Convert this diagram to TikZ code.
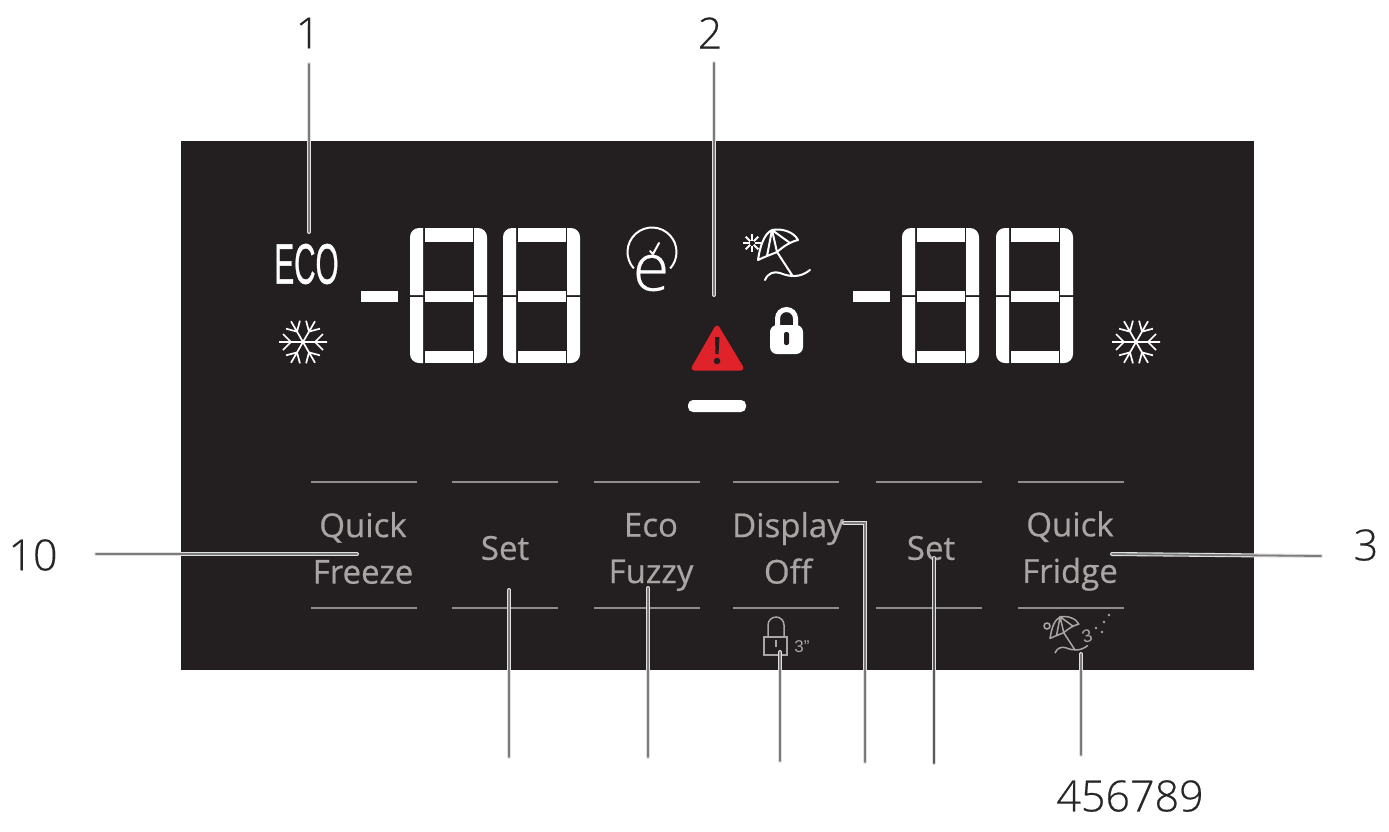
\documentclass[tikz,border=0pt]{standalone}
\usepackage{fontspec}
\setmainfont{Liberation Sans}
\newfontfamily\btnfont[FakeBold=0.5]{Open Sans}
\newfontfamily\lightfont[FakeBold=0.4]{Open Sans Light}
\newfontfamily\ecofont[FakeBold=1.0]{Liberation Sans}
\definecolor{panelbg}{HTML}{231F20}
\definecolor{btngray}{HTML}{A8A5A4}
\definecolor{rulegray}{HTML}{8F8C8C}
\definecolor{leadgray}{HTML}{7C7A7A}
\definecolor{alertred}{HTML}{E0222B}
\newcommand{\lcddigit}[2]{
  \begin{scope}[shift={(#1,#2)}]
    \fill[white] (15,0) rectangle (63,14);
    \fill[white] (15,63) rectangle (63,74);
    \fill[white] (15,123) rectangle (63,135);
    \fill[white] (13,67) -- (0,67) -- (0,9) arc[start angle=180,end angle=270,radius=9] -- (13,0) -- cycle;
    \fill[white] (13,69) -- (0,69) -- (0,126) arc[start angle=180,end angle=90,radius=9] -- (13,135) -- cycle;
    \fill[white] (64,67) -- (77,67) -- (77,9) arc[start angle=0,end angle=-90,radius=9] -- (64,0) -- cycle;
    \fill[white] (64,69) -- (77,69) -- (77,126) arc[start angle=0,end angle=90,radius=9] -- (64,135) -- cycle;
  \end{scope}
}
\newcommand{\snowflake}[2]{
  \foreach \a in {0,60,...,300} {
    \draw[white,line width=1.7pt,shift={(#1,#2)},rotate=\a]
      (0,0) -- (24,0) (12,0) -- +(8,-8) (12,0) -- +(8,8);
  }
}
\newcommand{\parasol}[4]{
  \begin{scope}[shift={(#1,#2)},scale=#3,line cap=round,line join=round]
    \draw[#4] (-18,2) .. controls (-16,-12) and (-12,-24) .. (-4,-28)
        .. controls (6,-30) and (18,-26) .. (22,-18)
        .. controls (14,-16) and (8,-12) .. (1,-6)
        .. controls (-6,-3) and (-12,-1) .. (-18,2)
      (-4,-28) -- (1,-6) (-4,-28) -- (14,-15) (-4,-28) -- (-9,-2)
      (1,-6) -- (16,17)
      (-11,22) .. controls (-8,15) and (-2,13) .. (4,15) .. controls (14,19) and (24,20) .. (34,12);
  \end{scope}
}
\tikzset{
  btntext/.style={text=btngray,align=center,inner sep=0pt,
    font=\btnfont\fontsize{33}{46.5}\selectfont},
  numtext/.style={text=black!85,inner sep=0pt,font=\lightfont\fontsize{43}{52}\selectfont},
  btnrule/.style={draw=rulegray,line width=1.8pt},
  leader/.style={preaction={draw=white!88!black,line width=4pt,line cap=round},
    draw=leadgray,line width=1.8pt,line cap=round},
  heavyleader/.style={leader,draw=black!65,line width=2.8pt},
  iconline/.style={white,line width=2pt},
  smallicon/.style={btngray,line width=1.5pt},
}
\begin{document}
\begin{tikzpicture}[x=1pt,y=-1pt]
  \useasboundingbox (0,0) rectangle (1389,831);
  \fill[panelbg] (181,141) rectangle (1254,670);

  \fill[white] (361,291) rectangle (398,302);
  \lcddigit{410}{228}
  \lcddigit{503}{228}
  \fill[white] (853,291) rectangle (890,302);
  \lcddigit{902}{228}
  \lcddigit{996}{228}
  \snowflake{303}{342}
  \snowflake{1136}{342}

  \node[text=white,inner sep=0pt] (eco) at (306.5,264)
    {\ecofont\fontsize{57}{60}\selectfont\scalebox{0.52}[1]{ECO}};

  % clock and e
  \draw[iconline] (633.8,268.4) arc[start angle=138,end angle=402,radius=24.5];
  \draw[iconline,line cap=round] (650,251) -- (653,254) -- (659,243);
  \node[text=white,inner sep=0pt] (clocke) at (651,273)
    {\lightfont\fontsize{66}{68}\selectfont e};

  \parasol{776}{258}{1}{iconline}
  \foreach \a in {0,45,...,315} {
    \draw[iconline,shift={(752,243)}] (\a:2.5) -- (\a:9);
  }

  % padlock
  \draw[white,line width=5pt] (777.5,330) -- (777.5,318.5) arc[start angle=180,end angle=360,radius=9] -- (795.5,330);
  \fill[white,rounded corners=7pt] (770,325) rectangle (803,354);
  \fill[panelbg,rounded corners=2pt] (784,332) rectangle (789,345);

  % alert
  \fill[alertred,draw=alertred,line width=5pt,line join=round] (717,328) -- (694,368) -- (741,368) -- cycle;
  \fill[panelbg] (715,337) -- (719.5,337) -- (718.5,354) -- (715.5,354) -- cycle;
  \fill[panelbg] (717,361) circle (3.3);
  \fill[white,rounded corners=5pt] (688,400) rectangle (746,412);

  \foreach \x in {311,452,594,733,876,1018} {
    \draw[btnrule] (\x,482) -- ++(106,0);
    \draw[btnrule] (\x,608) -- ++(106,0);
  }

  \node[btntext] (qfreeze) at (363,548) {Quick\\Freeze};
  \node[btntext] (seta) at (505,548) {Set};
  \node[btntext] (ecofuzzy) at (651,552) {Eco\\Fuzzy};
  \node[btntext] (dispoff) at (788,548) {Display\\Off};
  \node[btntext] (setb) at (931,548) {Set};
  \node[btntext] (qfridge) at (1070,551) {Quick\\Fridge};

  % small lock
  \draw[smallicon] (764,637) rectangle (787,655);
  \draw[smallicon] (768,637) -- (768,625) arc[start angle=180,end angle=360,radius=8] -- (784,637);
  \draw[smallicon,line width=2pt] (776,640) -- (776,647);
  \node[text=btngray,inner sep=0pt,font=\fontsize{17}{18}\selectfont] (lockthree) at (802,647) {3"};

  % small parasol
  \parasol{1063}{637}{0.72}{smallicon}
  \draw[smallicon] (1047,626) circle (3);
  \node[text=btngray,inner sep=0pt,rotate=15,font=\fontsize{18}{20}\selectfont] (sunthree) at (1087,636) {3};
  \foreach \px/\py in {1096/628,1102/632,1104/622,1109/615} {
    \fill[btngray] (\px,\py) circle (1.3);
  }

  \node[numtext] (lblA) at (308,33) {1};
  \node[numtext] (lblB) at (710,33) {2};
  \node[numtext] (lblJ) at (33,555) {10};
  \node[numtext] (lblC) at (1366,545) {3};
  \node[numtext] (lblD) at (1130,796) {456789};

  \coordinate (tipA) at (309,232);
  \coordinate (startA) at (309,64);
  \coordinate (tipB) at (714,295);
  \coordinate (startB) at (714,63);
  \coordinate (tipJ) at (357,554);
  \coordinate (startJ) at (96,554);
  \coordinate (tipC) at (1112,554);
  \coordinate (startC) at (1321,556);
  \coordinate (tipE) at (509,590);
  \coordinate (footE) at (509,757);
  \coordinate (tipF) at (648,588);
  \coordinate (footF) at (648,757);
  \coordinate (tipG) at (780,652);
  \coordinate (footG) at (780,761);
  \coordinate (tipH) at (844,523);
  \coordinate (bendH) at (865,523);
  \coordinate (footH) at (865,762);
  \coordinate (tipI) at (934,558);
  \coordinate (footI) at (934,763);
  \coordinate (tipK) at (1081,654);
  \coordinate (footK) at (1081,755);

  \draw[leader] (startA) -- (tipA);
  \draw[leader] (startB) -- (tipB);
  \draw[leader] (startJ) -- (tipJ);
  \draw[leader] (startC) -- (tipC);
  \draw[leader] (footE) -- (tipE);
  \draw[leader] (footF) -- (tipF);
  \draw[leader] (footG) -- (tipG);
  \draw[leader] (footH) -- (bendH) -- (tipH);
  \draw[heavyleader] (footI) -- (tipI);
  \draw[leader] (footK) -- (tipK);
\end{tikzpicture}
\end{document}
